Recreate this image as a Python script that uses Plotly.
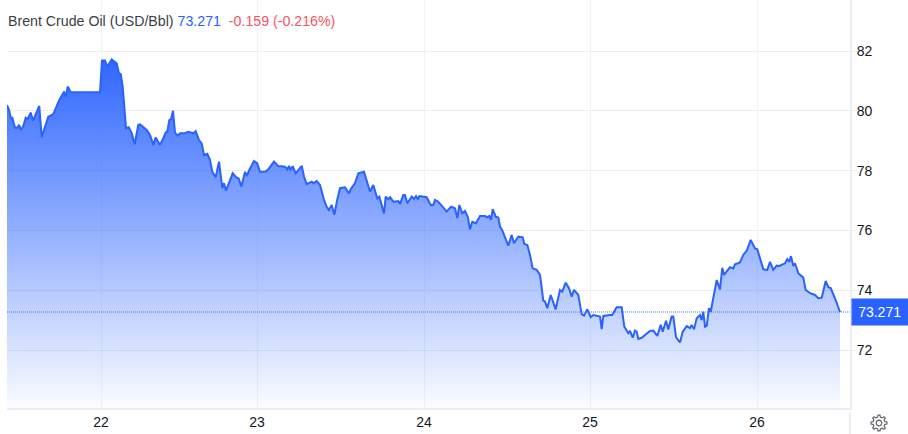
import math
import plotly.graph_objects as go

# Elapsed time along the session axis and the Brent price at each sample
elapsed = [0,2,3.7,5.3,8,10.3,12,14,16.3,18.7,20.7,23.7,26,28.7,32.3,34.7,38,41.3,46.3,52.3,57,58.7,60.7,63.7,93,95,98,100.3,104.7,108,
109.7,112,113.7,115.7,119,121.7,124.7,127.7,131.3,133,139.7,143,146.3,148.7,153,156.3,158.7,160.3,162.3,164,166,168,170.7,173,178,181.3,186.3,188.7,192,194.7,
197,200.3,203,205.3,208.7,212,215.3,217,219,225.7,229,231.7,234.3,238,239.7,242.3,247,250.3,253,258,261.3,267,271.3,278,280.3,282,283.7,285.7,288.7,294.7,
297,299.7,304.7,306.3,309.7,313,317,319.7,322,324.7,327.3,330.3,333,338,342,343.7,348,351.3,354.7,357,363,366.3,370.3,372.3,377,378.7,381.3,383,386.3,391.3,
393,396.3,398,400.3,404.7,407,409,411,412.3,419.7,423.7,426.3,428,431.3,439.7,444,448,450.3,452.3,455.3,458,460.7,463,465.3,469,473,478,480.3,482.3,484,
485.7,488.7,491.3,493,495.3,501.3,504.7,507,511.3,513.7,515.7,517.3,520.3,523,525.7,529.7,533,536.3,538,540.3,543.7,548.7,553,555.3,558.7,562,564.7,567,571.3,574.7,
577,580.3,583.7,586.3,593,594.7,596.3,603,605.3,609.7,614.7,617.3,621.3,623,625.7,628,629.7,631.3,634.7,638,643,646.3,650.3,653.7,655.7,659,661.3,664.7,666.3,669,
673,675.7,679.7,683,684.7,687,689.7,693,694.7,696.3,698,699.7,702,703.7,709.7,713,715.3,717,723,726.3,728,733,736.3,739.7,743.7,748,750.3,756.3,760.3,763,
766.3,769.7,772.3,778,780.3,782.3,784,786.3,788,791.3,796.3,798.7,803,808,811.3,814.7,818.7,821.3,823.7,828,833]

price = [80.19,80.03,79.76,79.77,79.43,79.43,79.53,79.36,79.49,79.77,79.73,79.94,79.67,79.89,80.16,79.12,79.47,79.80,79.89,80.36,80.64,80.47,80.81,80.62,80.62,81.68,81.68,81.48,81.72,81.64,
81.59,81.25,81.23,80.81,79.42,79.45,79.25,78.88,79.53,79.55,79.36,79.19,78.86,79.11,78.86,79.08,79.28,79.30,79.69,79.72,80.0,79.27,79.17,79.25,79.25,79.30,79.25,79.32,79.02,78.91,
78.52,78.56,78.36,77.96,77.78,78.30,77.41,77.58,77.33,77.91,77.78,77.74,77.46,77.96,77.82,78.02,78.32,78.24,77.96,77.96,78.04,78.30,78.15,78.13,78.04,78.16,78.02,78.15,77.91,78.16,
77.80,77.55,77.63,77.58,77.65,77.52,77.02,76.79,76.68,76.85,76.52,77.04,77.41,77.44,77.24,77.38,77.58,77.91,77.93,77.96,77.30,77.52,77.07,77.13,76.57,77.13,77.04,77.11,76.96,76.98,
76.88,77.18,77.18,76.91,77.13,77.05,77.15,77.04,77.15,77.11,76.85,76.85,77.02,76.96,76.63,76.79,76.74,76.41,76.85,76.57,76.65,76.46,76.04,76.29,76.24,76.48,76.48,76.44,76.48,76.35,
76.71,76.46,76.43,76.13,76.0,75.49,75.85,75.57,75.79,75.79,75.77,75.55,75.51,75.18,74.73,74.68,74.51,73.65,73.62,73.40,73.84,73.36,74.01,73.95,74.25,74.07,73.78,74.01,73.84,73.20,
73.15,73.36,73.10,73.17,73.12,72.70,73.14,73.17,73.17,73.43,73.43,72.78,72.56,72.64,72.41,72.65,72.61,72.37,72.41,72.50,72.64,72.65,72.47,72.84,72.61,72.98,72.69,73.12,73.12,72.43,
72.25,72.61,72.80,72.73,72.84,72.69,73.06,73.17,73.0,73.28,72.78,72.81,73.40,73.28,74.34,74.03,74.75,74.51,74.77,74.73,74.87,74.93,75.18,75.32,75.68,75.40,75.37,74.70,74.68,74.95,
74.68,74.82,74.81,74.90,75.04,74.95,75.14,74.81,74.90,74.57,74.42,74.01,73.90,73.84,73.73,73.75,74.31,74.10,74.07,73.73,73.271]

day_ticks = [94, 250, 417, 583, 750]
day_labels = ["22", "23", "24", "25", "26"]
price_ticks = [72, 74, 76, 78, 80, 82]

last_price = 73.271
change_text = "-0.159 (-0.216%)"
title_text = "Brent Crude Oil (USD/Bbl)"

BLUE = "#2962ff"
GRID = "#ebedf1"
WIDTH, HEIGHT = 908, 434
ML, MR, MT, MB = 7, 58, 0, 26
FONT = "Liberation Sans"

fig = go.Figure()
fig.add_trace(go.Scatter(
    x=elapsed, y=price, mode="lines",
    line=dict(color=BLUE, width=2),
    fill="tozeroy",
    fillgradient=dict(
        type="vertical", start=81.7, stop=70.06,
        colorscale=[[0, "rgba(41,98,255,0.97)"], [1, "rgba(41,98,255,0.02)"]],
    ),
    hoverinfo="skip", showlegend=False,
))

fig.add_shape(type="line", xref="paper", x0=0, x1=1, yref="y", y0=last_price, y1=last_price,
              line=dict(color="rgba(41,98,255,0.8)", width=1, dash="1px,1px"), layer="above")

# Gear icon in the lower right corner, built in pixel space and scaled to paper units
def gear_path(cx, cy, outer=8.0, inner=6.0, hole=2.8, teeth=8):
    pw, ph = WIDTH - ML - MR, HEIGHT - MT - MB
    def to_paper(px, py):
        return (px - ML) / pw, 1 - (py - MT) / ph
    pts = []
    for k in range(teeth):
        base = 2 * math.pi * k / teeth
        step = 2 * math.pi / teeth
        for frac, r in ((-0.30, inner), (-0.16, outer), (0.16, outer), (0.30, inner)):
            a = base + frac * step
            pts.append(to_paper(cx + r * math.cos(a), cy + r * math.sin(a)))
    path = "M " + " L ".join(f"{x:.5f} {y:.5f}" for x, y in pts) + " Z "
    ring = [to_paper(cx + hole * math.cos(2 * math.pi * i / 16), cy + hole * math.sin(2 * math.pi * i / 16)) for i in range(16)]
    path += "M " + " L ".join(f"{x:.5f} {y:.5f}" for x, y in ring) + " Z"
    return path

fig.add_shape(type="path", xref="paper", yref="paper", path=gear_path(879, 423),
              line=dict(color="#5f636a", width=1.2), fillcolor="rgba(0,0,0,0)")

# Continuation of the price-axis rule beside the date labels
fig.add_shape(type="line", xref="paper", yref="paper", x0=1, x1=1, y0=-0.01, y1=-26 / 408,
              line=dict(color=GRID, width=2))

fig.add_annotation(xref="paper", yref="paper", x=0, y=1, xanchor="left", yanchor="top",
                   xshift=-1, yshift=-11, showarrow=False, align="left",
                   text=(f'<span style="color:#3a3e46">{title_text}</span> '
                         f'<span style="color:{BLUE}">{last_price}</span>'
                         f'<span style="color:#f7525f">&nbsp;&nbsp;{change_text}</span>'),
                   font=dict(family=FONT, size=14.2))

fig.add_annotation(xref="paper", yref="y", x=1, y=last_price, xanchor="left", yanchor="middle",
                   xshift=1, showarrow=False, text=f"{last_price}&nbsp;", width=57, height=24, align="center",
                   bgcolor=BLUE, font=dict(family=FONT, size=14, color="#ffffff"))

fig.update_layout(
    width=WIDTH, height=HEIGHT,
    margin=dict(l=ML, r=MR, t=MT, b=MB, pad=0),
    paper_bgcolor="#ffffff", plot_bgcolor="#ffffff",
    font=dict(family=FONT, size=14, color="#131722"),
    xaxis=dict(range=[0, 843], tickvals=day_ticks, ticktext=day_labels, showgrid=True,
               gridcolor="#f1f3f8", gridwidth=1, zeroline=False, showline=True, linecolor=GRID,
               linewidth=2, ticks="", tickfont=dict(size=14)),
    yaxis=dict(range=[70.06, 83.706], side="right", tickvals=price_ticks, showgrid=True,
               gridcolor=GRID, gridwidth=1, zeroline=False, showline=True, linecolor=GRID,
               linewidth=2, ticks="outside", ticklen=5, tickcolor=GRID, ticklabelstandoff=-3,
               tickfont=dict(size=14)),
)

fig.write_html("out.html")
